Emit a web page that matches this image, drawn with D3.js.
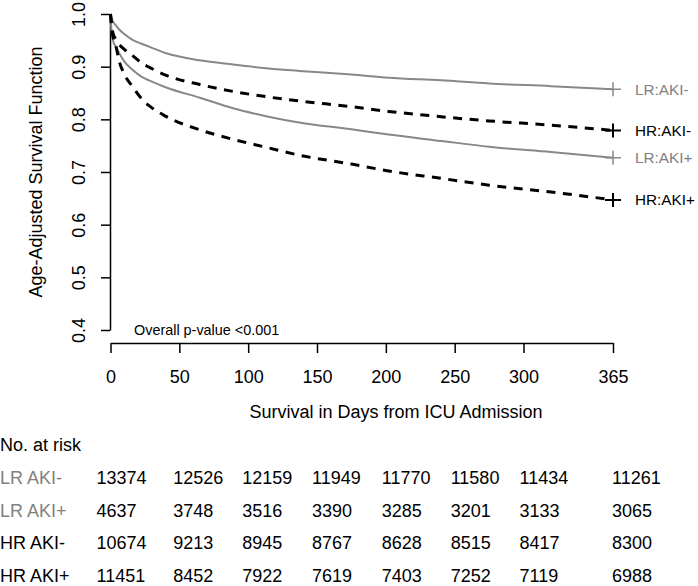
<!DOCTYPE html>
<html>
<head>
<meta charset="utf-8">
<script src="https://cdn.jsdelivr.net/npm/d3@7"></script>
<style>
  html, body { margin: 0; padding: 0; background: #fff; }
  svg { display: block; font-family: "Liberation Sans", Arial, sans-serif; }
</style>
</head>
<body>
<svg id="chart" width="698" height="586"></svg>
<script>
// ---- data ----
const times    = [0, 1, 2, 4, 6.5, 10, 16, 23, 28, 40, 65, 89, 113, 137, 175, 202, 240, 275, 320, 365];
const lrAkiNeg = [1.0, 0.990, 0.985, 0.978, 0.970, 0.962, 0.951, 0.943, 0.938, 0.926, 0.912, 0.904, 0.897, 0.892, 0.885, 0.879, 0.874, 0.868, 0.863, 0.857];
const hrAkiNeg = [1.0, 0.975, 0.962, 0.952, 0.942, 0.933, 0.921, 0.906, 0.899, 0.884, 0.866, 0.853, 0.843, 0.835, 0.824, 0.815, 0.805, 0.797, 0.789, 0.779];
const lrAkiPos = [1.0, 0.960, 0.948, 0.937, 0.925, 0.910, 0.894, 0.880, 0.874, 0.861, 0.841, 0.821, 0.806, 0.794, 0.781, 0.771, 0.759, 0.748, 0.738, 0.727];
const hrAkiPos = [1.0, 0.970, 0.955, 0.938, 0.909, 0.886, 0.862, 0.838, 0.826, 0.806, 0.780, 0.762, 0.747, 0.732, 0.715, 0.702, 0.688, 0.675, 0.662, 0.647];

const seriesNames = ["LR:AKI-", "HR:AKI-", "LR:AKI+", "HR:AKI+"];
const xTicks = [0, 50, 100, 150, 200, 250, 300, 365];
const yTicks = [0.4, 0.5, 0.6, 0.7, 0.8, 0.9, 1.0];

const riskLabels = ["LR AKI-", "LR AKI+", "HR AKI-", "HR AKI+"];
const riskTimes  = [0, 50, 100, 150, 200, 250, 300, 365];
const riskLRneg = [13374, 12526, 12159, 11949, 11770, 11580, 11434, 11261];
const riskLRpos = [4637, 3748, 3516, 3390, 3285, 3201, 3133, 3065];
const riskHRneg = [10674, 9213, 8945, 8767, 8628, 8515, 8417, 8300];
const riskHRpos = [11451, 8452, 7922, 7619, 7403, 7252, 7119, 6988];

// ---- styles / layout ----
const GRAY = "#888888";
const styles = [
  { color: GRAY, width: 2, dash: null },
  { color: "#000", width: 3, dash: "9,7.5" },
  { color: GRAY, width: 2, dash: null },
  { color: "#000", width: 3, dash: "9,7.5" }
];
const seriesValues = [lrAkiNeg, hrAkiNeg, lrAkiPos, hrAkiPos];
const riskRows = [riskLRneg, riskLRpos, riskHRneg, riskHRpos];
const riskLabelColors = [GRAY, GRAY, "#000", "#000"];
const colOffsets = [-14, -6, -6, -5, -4, -4, -4, -1];

const svg = d3.select("#chart");
svg.append("rect").attr("width", 698).attr("height", 586).attr("fill", "#fff");

const x = d3.scaleLinear().domain([0, 365]).range([110.5, 613]);
const y = d3.scaleLinear().domain([0.4, 1.0]).range([330, 14]);

// y axis
const yAxis = svg.append("g")
  .attr("transform", "translate(110,0)")
  .call(d3.axisLeft(y).tickValues(yTicks).tickSize(9).tickSizeOuter(0).tickFormat(d3.format(".1f")));
yAxis.selectAll("path, line").attr("stroke", "#000").attr("stroke-width", 1.5);
yAxis.selectAll("text")
  .attr("x", null).attr("dy", null)
  .attr("transform", "translate(-25,0) rotate(-90)")
  .attr("text-anchor", "middle")
  .attr("font-size", 18)
  .attr("font-family", "Liberation Sans, Arial, sans-serif")
  .attr("fill", "#000");

// x axis
const xAxis = svg.append("g")
  .attr("transform", "translate(0,343)")
  .call(d3.axisBottom(x).tickValues(xTicks).tickSize(10).tickSizeOuter(0).tickFormat(d3.format("d")));
xAxis.selectAll("path, line").attr("stroke", "#000").attr("stroke-width", 1.5);
xAxis.selectAll("text")
  .attr("y", 40).attr("dy", null)
  .attr("font-size", 18)
  .attr("font-family", "Liberation Sans, Arial, sans-serif")
  .attr("fill", "#000");

// axis titles
svg.append("text")
  .attr("transform", "translate(42,172) rotate(-90)")
  .attr("text-anchor", "middle")
  .attr("font-size", 18)
  .text("Age-Adjusted Survival Function");
svg.append("text")
  .attr("x", 396).attr("y", 418)
  .attr("text-anchor", "middle")
  .attr("font-size", 18)
  .text("Survival in Days from ICU Admission");

svg.append("text")
  .attr("x", 134).attr("y", 335)
  .attr("font-size", 14.4)
  .text("Overall p-value <0.001");

// curves
const line = d3.line()
  .x((d, i) => x(times[i]))
  .y(d => y(d))
  .curve(d3.curveMonotoneX);

seriesValues.forEach((vals, k) => {
  const st = styles[k];
  svg.append("path")
    .attr("d", line(vals))
    .attr("fill", "none")
    .attr("stroke", st.color)
    .attr("stroke-width", st.width)
    .attr("stroke-dasharray", st.dash);
  const endV = vals[vals.length - 1];
  const cx = x(times[times.length - 1]);
  const cy = y(endV);
  svg.append("path")
    .attr("d", `M${cx - 8},${cy}H${cx + 8}M${cx},${cy - 7}V${cy + 7}`)
    .attr("stroke", st.color)
    .attr("stroke-width", k % 2 ? 2 : 1.5)
    .attr("fill", "none");
  svg.append("text")
    .attr("x", 635).attr("y", cy)
    .attr("dy", "0.36em")
    .attr("font-size", 15.3)
    .attr("fill", st.color === GRAY ? "#808080" : "#000")
    .text(seriesNames[k]);
});

// number at risk table
svg.append("text")
  .attr("x", 0).attr("y", 451)
  .attr("font-size", 18)
  .text("No. at risk");

riskRows.forEach((row, r) => {
  const by = 484 + 32.5 * r;
  svg.append("text")
    .attr("x", 0).attr("y", by)
    .attr("font-size", 18)
    .attr("fill", riskLabelColors[r] === GRAY ? "#808080" : "#000")
    .text(riskLabels[r]);
  row.forEach((n, c) => {
    svg.append("text")
      .attr("x", x(riskTimes[c]) + colOffsets[c])
      .attr("y", by)
      .attr("font-size", 18)
      .attr("fill", "#000")
      .text(n);
  });
});
</script>
</body>
</html>
